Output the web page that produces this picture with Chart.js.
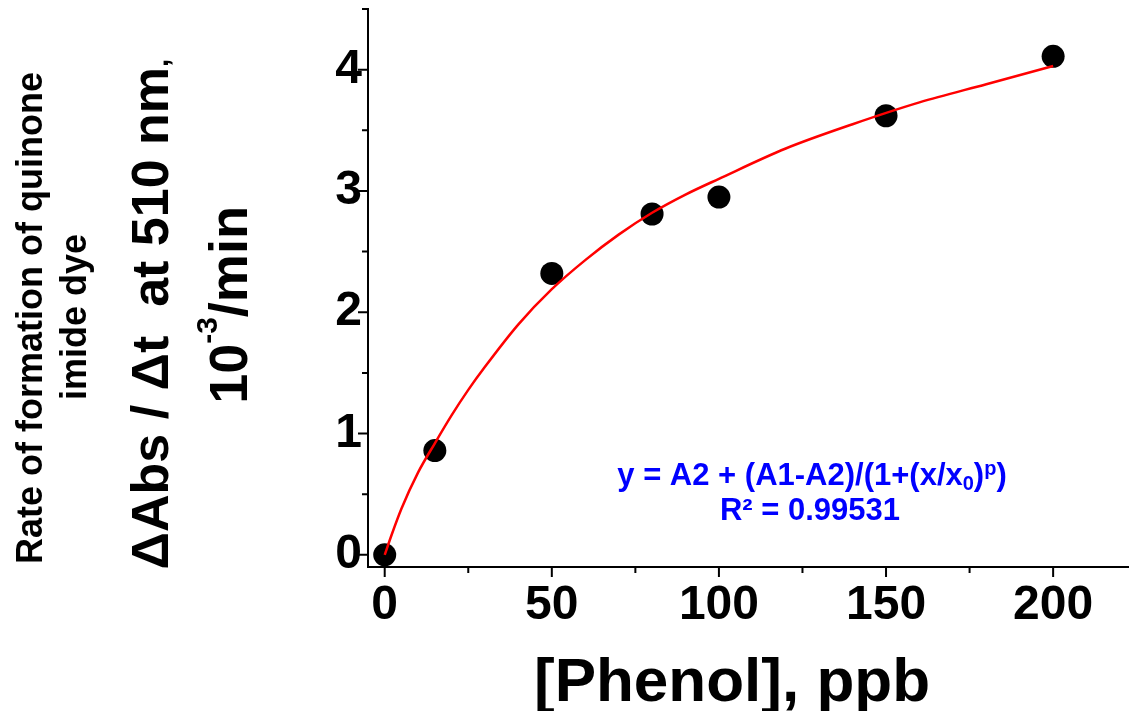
<!DOCTYPE html>
<html>
<head>
<meta charset="utf-8">
<script src="https://cdn.jsdelivr.net/npm/chart.js@4"></script>
<style>
  html, body { margin: 0; padding: 0; background: #fff; overflow: hidden; }
  canvas { display: block; }
</style>
</head>
<body>
<canvas id="myChart" width="1129" height="711"></canvas>
<script>
// measured points
const phenol = [0, 15, 50, 80, 100, 150, 200];
const rate = [0, 0.86, 2.32, 2.81, 2.95, 3.62, 4.11];

// fitted curve
const fitX = [0, 2, 5, 10, 15, 20, 25, 30, 40, 50, 60, 70, 80, 90, 100, 120, 140, 160, 180, 200];
const fitY = [0, 0.16, 0.38, 0.68, 0.92, 1.15, 1.36, 1.55, 1.90, 2.19, 2.43, 2.64, 2.82, 2.97, 3.10, 3.35, 3.55, 3.73, 3.88, 4.03];

const xTicks = [0, 50, 100, 150, 200];
const xMinor = [25, 75, 125, 175];
const yTicks = [0, 1, 2, 3, 4];
const yMinor = [0.5, 1.5, 2.5, 3.5, 4.5];

const FONT = '"Liberation Sans", Arial, sans-serif';

function rotLine(ctx, parts, cx, cy) {
  // parts: [text, size, raise]; drawn bottom-to-top, centred on cy
  ctx.save();
  ctx.translate(cx, cy);
  ctx.rotate(-Math.PI / 2);
  ctx.textAlign = "left";
  ctx.textBaseline = "alphabetic";
  let total = 0;
  parts.forEach(p => { ctx.font = `bold ${p[1]}px ${FONT}`; total += ctx.measureText(p[0]).width; });
  let x = -total / 2;
  parts.forEach(p => {
    ctx.font = `bold ${p[1]}px ${FONT}`;
    ctx.fillText(p[0], x, -(p[2] || 0));
    x += ctx.measureText(p[0]).width;
  });
  ctx.restore();
}

function flatLine(ctx, parts, cx, baseY) {
  ctx.save();
  ctx.textAlign = "left";
  ctx.textBaseline = "alphabetic";
  let total = 0;
  parts.forEach(p => { ctx.font = `bold ${p[1]}px ${FONT}`; total += ctx.measureText(p[0]).width; });
  let x = cx - total / 2;
  parts.forEach(p => {
    ctx.font = `bold ${p[1]}px ${FONT}`;
    ctx.fillText(p[0], x, baseY - (p[2] || 0));
    x += ctx.measureText(p[0]).width;
  });
  ctx.restore();
}

const decorations = {
  id: "decorations",
  afterDraw(chart) {
    const ctx = chart.ctx;
    const xs = chart.scales.x;
    const ys = chart.scales.y;
    const area = chart.chartArea;

    // tick marks
    ctx.save();
    ctx.strokeStyle = "#000";
    ctx.lineWidth = 2;
    ctx.beginPath();
    xTicks.forEach(v => { const px = xs.getPixelForValue(v); ctx.moveTo(px, area.bottom); ctx.lineTo(px, area.bottom + 10); });
    xMinor.forEach(v => { const px = xs.getPixelForValue(v); ctx.moveTo(px, area.bottom); ctx.lineTo(px, area.bottom + 6); });
    yTicks.forEach(v => { const py = ys.getPixelForValue(v); ctx.moveTo(area.left, py); ctx.lineTo(area.left - 10, py); });
    yMinor.forEach(v => { const py = ys.getPixelForValue(v); ctx.moveTo(area.left, py); ctx.lineTo(area.left - 6, py); });
    ctx.stroke();
    ctx.restore();

    // axis titles
    ctx.save();
    ctx.fillStyle = "#000";
    rotLine(ctx, [["Rate of formation of quinone", 36]], 42, 318);
    rotLine(ctx, [["imide dye", 36]], 86, 317);
    rotLine(ctx, [["\u0394Abs / \u0394t  at 510 nm", 52], [",", 30]], 168, 314);
    rotLine(ctx, [["10", 54], ["-3", 30, 30], ["/min", 54]], 247, 305);
    flatLine(ctx, [["[Phenol], ppb", 62]], 732, 701);

    // fit equation
    ctx.fillStyle = "#0000ff";
    flatLine(ctx, [["y = A2 + (A1-A2)/(1+(x/x", 31], ["0", 20, -5], [")", 31], ["p", 20, 10], [")", 31]], 812, 485);
    flatLine(ctx, [["R\u00b2 = 0.99531", 31]], 810, 520);
    ctx.restore();
  }
};

function noPad(s) {
  s.paddingTop = 0;
  s.paddingBottom = 0;
  s.paddingLeft = 0;
  s.paddingRight = 0;
}

const ctx = document.getElementById("myChart").getContext("2d");
new Chart(ctx, {
  type: "scatter",
  data: {
    datasets: [
      {
        type: "line",
        label: "fit",
        data: fitX.map((x, i) => ({ x, y: fitY[i] })),
        borderColor: "#ff0000",
        borderWidth: 2.5,
        pointRadius: 0,
        fill: false,
        cubicInterpolationMode: "monotone",
        order: 0,
      },
      {
        label: "rate",
        data: phenol.map((x, i) => ({ x, y: rate[i] })),
        backgroundColor: "#000",
        borderWidth: 0,
        pointRadius: 11.5,
        order: 1,
      },
    ],
  },
  options: {
    responsive: false,
    animation: false,
    layout: { autoPadding: false, padding: { top: 9, left: 0, right: 0, bottom: 0 } },
    plugins: { legend: { display: false }, tooltip: { enabled: false } },
    scales: {
      x: {
        type: "linear",
        min: -5,
        max: 222.7,
        afterBuildTicks: (s) => { s.ticks = xTicks.map(v => ({ value: v })); },
        afterFit: (s) => { s.height = 144; noPad(s); },
        grid: { display: false, drawTicks: false },
        border: { display: true, color: "#000", width: 2 },
        ticks: { color: "#000", padding: 10, maxRotation: 0, font: { family: FONT, size: 48, weight: "bold" } },
      },
      y: {
        min: -0.1,
        max: 4.5,
        afterBuildTicks: (s) => { s.ticks = yTicks.map(v => ({ value: v })); },
        afterFit: (s) => { s.width = 368; noPad(s); },
        grid: { display: false, drawTicks: false },
        border: { display: true, color: "#000", width: 2 },
        ticks: { color: "#000", padding: 6, font: { family: FONT, size: 48, weight: "bold" } },
      },
    },
  },
  plugins: [decorations],
});
</script>
</body>
</html>
